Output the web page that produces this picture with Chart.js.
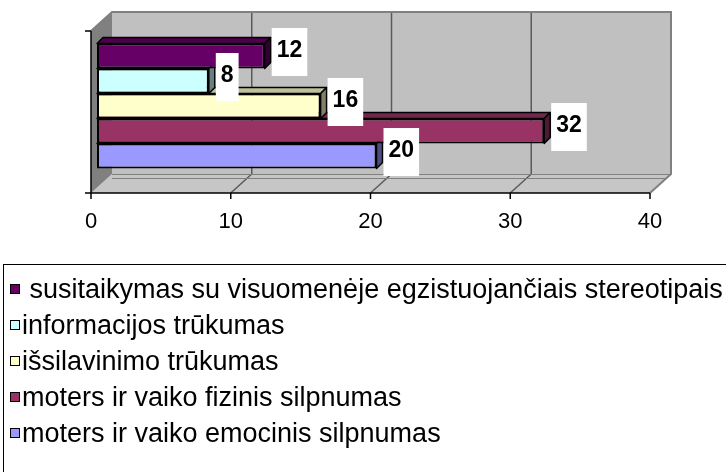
<!DOCTYPE html>
<html>
<head>
<meta charset="utf-8">
<script src="https://cdn.jsdelivr.net/npm/chart.js@4/dist/chart.umd.min.js"></script>
<style>
  body { margin: 0; background: #fff; font-family: "Liberation Sans", Arial, sans-serif; }
  #wrap { position: relative; width: 726px; height: 472px; overflow: hidden; }
  #chart { position: absolute; left: 0; top: 0; }
  #legend { position: absolute; left: 3px; top: 264px; width: 760px; height: 260px; border: 1px solid #000; }
  .item { position: absolute; left: 6px; height: 36px; display: flex; align-items: center; font-size: 27px; white-space: pre; color: #000; }
  .mark { width: 8px; height: 8px; border: 1px solid #000; margin-right: 2px; flex: none; }
</style>
</head>
<body>
<div id="wrap">
  <canvas id="chart" width="726" height="472"></canvas>
  <div id="legend"></div>
</div>
<script>
// one category, five series
const seriesNames = [
    ' susitaikymas su visuomenėje egzistuojančiais stereotipais',
    'informacijos trūkumas',
    'išsilavinimo trūkumas',
    'moters ir vaiko fizinis silpnumas',
    'moters ir vaiko emocinis silpnumas'
];
const seriesValues = [12, 8, 16, 32, 20];
const seriesColors = ['#660066', '#CCFFFF', '#FFFFCC', '#993366', '#9999FF'];
const xTicks = [0, 10, 20, 30, 40];

const BAR_D = 6;      // depth of each bar
const FRONT_DX = -6;  // bars sit a bit behind the front plane
const WALL_DX = 21, WALL_DY = -19;

const shade = (hex, f) => {
    const n = parseInt(hex.slice(1), 16);
    const r = Math.round(((n >> 16) & 255) * f), g = Math.round(((n >> 8) & 255) * f), b = Math.round((n & 255) * f);
    return `rgb(${r},${g},${b})`;
};

const poly = (ctx, pts, fill, stroke, lw) => {
    ctx.beginPath();
    pts.forEach((p, i) => i ? ctx.lineTo(p[0], p[1]) : ctx.moveTo(p[0], p[1]));
    ctx.closePath();
    if (fill) { ctx.fillStyle = fill; ctx.fill(); }
    if (stroke) { ctx.strokeStyle = stroke; ctx.lineWidth = lw || 1; ctx.stroke(); }
};

// walls, floor, grid and the front axes
const walls = {
    id: 'walls',
    beforeDatasetsDraw(chart) {
        const ctx = chart.ctx, xs = chart.scales.x, area = chart.chartArea;
        const fx = v => xs.getPixelForValue(v) + FRONT_DX;
        const fTop = area.top - FRONT_DX, fBot = area.bottom - FRONT_DX;
        const fx0 = fx(xTicks[0]), fx1 = fx(xTicks[xTicks.length - 1]);
        const bx0 = fx0 + WALL_DX, bx1 = fx1 + WALL_DX, bTop = fTop + WALL_DY, bBot = fBot + WALL_DY;
        ctx.save();
        poly(ctx, [[bx0, bTop], [bx1, bTop], [bx1, bBot], [bx0, bBot]], '#C0C0C0');
        poly(ctx, [[fx0, fBot], [fx1, fBot], [bx1, bBot], [bx0, bBot]], '#C6C6C6');
        poly(ctx, [[fx0, fTop], [bx0, bTop], [bx0, bBot], [fx0, fBot]], '#808080');
        ctx.strokeStyle = '#5a5a5a';
        ctx.lineWidth = 1.5;
        xTicks.slice(1, -1).forEach(v => {
            const x = fx(v);
            ctx.beginPath();
            ctx.moveTo(x + WALL_DX, bTop); ctx.lineTo(x + WALL_DX, bBot);
            ctx.moveTo(x + WALL_DX, bBot); ctx.lineTo(x, fBot);
            ctx.stroke();
        });
        // edges
        ctx.strokeStyle = '#808080';
        ctx.lineWidth = 2;
        ctx.beginPath();
        ctx.moveTo(fx0, fTop); ctx.lineTo(bx0, bTop); ctx.lineTo(bx1, bTop); ctx.lineTo(bx1, bBot); ctx.lineTo(fx1, fBot);
        ctx.stroke();
        ctx.lineWidth = 1;
        ctx.beginPath();
        ctx.moveTo(bx0, bBot + 0.5); ctx.lineTo(bx1, bBot + 0.5);
        ctx.moveTo(bx0, bBot + 4.5); ctx.lineTo(bx1 - 4, bBot + 4.5);
        ctx.stroke();
        // front axes
        ctx.strokeStyle = '#000';
        ctx.lineWidth = 1.5;
        ctx.beginPath();
        ctx.moveTo(fx0 - 6, fBot); ctx.lineTo(fx1, fBot);
        ctx.moveTo(fx0, fTop); ctx.lineTo(fx0, fBot);
        ctx.moveTo(fx0 - 6, fTop); ctx.lineTo(fx0, fTop);
        xTicks.forEach(v => { ctx.moveTo(fx(v), fBot); ctx.lineTo(fx(v), fBot + 6); });
        ctx.stroke();
        ctx.fillStyle = '#000';
        ctx.font = '22px "Liberation Sans", Arial, sans-serif';
        ctx.textAlign = 'center';
        ctx.textBaseline = 'alphabetic';
        xTicks.forEach(v => ctx.fillText(String(v), fx(v), fBot + 35));
        ctx.restore();
    },
    // top and side faces of each bar (datasets are drawn bottom to top)
    afterDatasetDraw(chart, args) {
        const ctx = chart.ctx, i = args.index;
        const bar = args.meta.data[0];
        const { x, y, base, height } = bar.getProps(['x', 'y', 'base', 'height'], true);
        const top = y - height / 2, bot = y + height / 2, c = seriesColors[i];
        ctx.save();
        ctx.lineJoin = 'round';
        poly(ctx, [[base, top], [base + BAR_D, top - BAR_D], [x + BAR_D, top - BAR_D], [x, top]], shade(c, 0.75), '#000', 1.5);
        poly(ctx, [[x, top], [x + BAR_D, top - BAR_D], [x + BAR_D, bot - BAR_D], [x, bot]], shade(c, 0.5), '#000', 1.5);
        ctx.restore();
    },
    // value labels in white boxes
    afterDatasetsDraw(chart) {
        const ctx = chart.ctx;
        ctx.save();
        ctx.font = 'bold 23px "Liberation Sans", Arial, sans-serif';
        ctx.textBaseline = 'alphabetic';
        ctx.textAlign = 'left';
        chart.data.datasets.forEach((ds, i) => {
            const bar = chart.getDatasetMeta(i).data[0];
            const { x, y } = bar.getProps(['x', 'y'], true);
            const txt = String(ds.data[0]);
            const w = ctx.measureText(txt).width + 10;
            const left = x + BAR_D + 1, cy = y - 4;
            ctx.fillStyle = '#fff';
            ctx.fillRect(left, cy - 24, w, 48);
            ctx.fillStyle = '#000';
            ctx.fillText(txt, left + 5, cy + 5);
        });
        ctx.restore();
    }
};

new Chart(document.getElementById('chart'), {
    type: 'bar',
    data: {
        labels: [''],
        datasets: seriesNames.map((name, i) => ({
            label: name,
            data: [seriesValues[i]],
            backgroundColor: seriesColors[i],
            borderColor: '#000',
            borderWidth: 2,
            borderSkipped: false,
            barPercentage: 1,
            categoryPercentage: 0.772
        }))
    },
    options: {
        indexAxis: 'y',
        responsive: false,
        animation: false,
        layout: { padding: { left: 97, right: 70, top: 25, bottom: 285 } },
        scales: {
            x: { display: false, min: 0, max: 40 },
            y: { display: false }
        },
        plugins: { legend: { display: false }, tooltip: { enabled: false } }
    },
    plugins: [walls]
});

// legend box below the chart
const legend = document.getElementById('legend');
seriesNames.forEach((name, i) => {
    const row = document.createElement('div');
    row.className = 'item';
    row.style.top = (289 - 265 - 18 + i * 36) + 'px';
    row.innerHTML = `<span class="mark" style="background:${seriesColors[i]}"></span><span></span>`;
    row.lastChild.textContent = name;
    legend.appendChild(row);
});
</script>
</body>
</html>
